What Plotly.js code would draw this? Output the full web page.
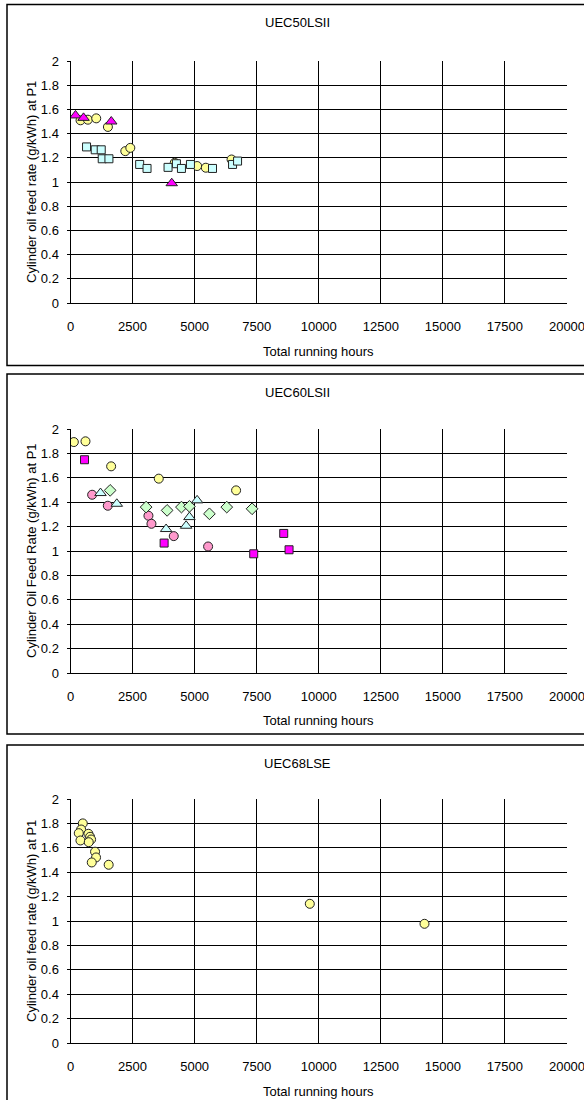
<!DOCTYPE html>
<html>
<head>
<meta charset="utf-8">
<script src="https://cdn.plot.ly/plotly-3.0.1.min.js"></script>
<style>html,body{margin:0;padding:0;background:#fff}#chart{width:584px;height:1100px}</style>
</head>
<body>
<div id="chart"></div>
<script>
// ---------- Panel 1: UEC50LSII ----------
const p1TriHours = [202, 525, 1642, 4078];
const p1TriRate  = [1.55, 1.53, 1.50, 0.99];
const p1CircHours = [404, 700, 1036, 1507, 2207, 2409, 4200, 5101, 5451, 6488];
const p1CircRate  = [1.51, 1.515, 1.526, 1.455, 1.255, 1.282, 1.159, 1.132, 1.118, 1.186];
const p1SqHours = [646, 996, 1238, 1278, 1548, 2786, 3083, 3930, 4267, 4469, 4832, 5720, 6528, 6730];
const p1SqRate  = [1.29, 1.266, 1.266, 1.192, 1.192, 1.145, 1.112, 1.121, 1.151, 1.112, 1.145, 1.112, 1.145, 1.173];

// ---------- Panel 2: UEC60LSII ----------
const p2YellowHours = [134, 604, 1637, 3556, 6670];
const p2YellowRate  = [1.893, 1.899, 1.694, 1.593, 1.497];
const p2MagSqHours = [564, 3771, 7381, 8589, 8804];
const p2MagSqRate  = [1.748, 1.065, 0.977, 1.144, 1.010];
const p2PinkHours = [872, 1503, 3140, 3261, 4160, 5543];
const p2PinkRate  = [1.461, 1.371, 1.289, 1.223, 1.122, 1.037];
const p2TriHours = [1208, 1865, 3851, 4657, 4791, 5100];
const p2TriRate  = [1.475, 1.387, 1.180, 1.207, 1.278, 1.415];
const p2DiaHours = [1597, 3046, 3892, 4469, 4791, 5596, 6294, 7314];
const p2DiaRate  = [1.497, 1.360, 1.333, 1.360, 1.366, 1.305, 1.360, 1.346];

// ---------- Panel 3: UEC68LSE ----------
const p3Hours = [495, 428, 334, 722, 401, 789, 829, 735, 989, 1029, 856, 1538, 9640, 14260];
const p3Rate  = [1.80, 1.75, 1.72, 1.715, 1.66, 1.69, 1.668, 1.646, 1.568, 1.521, 1.480, 1.461, 1.141, 0.977];

// ---------- Text ----------
const panelTitles = ["UEC50LSII", "UEC60LSII", "UEC68LSE"];
const yTitles = ["Cylinder oil feed rate (g/kWh) at P1", "Cylinder Oil Feed Rate (g/kWh) at P1", "Cylinder oil feed rate (g/kWh) at P1"];
const xTitle = "Total running hours";
const xTickVals = [0, 2500, 5000, 7500, 10000, 12500, 15000, 17500, 20000];
const xTickText = ["0", "2500", "5000", "7500", "10000", "12500", "15000", "17500", "20000"];
const yTickVals = [0, 0.2, 0.4, 0.6, 0.8, 1, 1.2, 1.4, 1.6, 1.8, 2];
const yTickText = ["0", "0.2", "0.4", "0.6", "0.8", "1", "1.2", "1.4", "1.6", "1.8", "2"];

const FONT = "'Liberation Sans', Arial, sans-serif";
const FS = 13;
const H = 1100, W = 584;
const py = v => 1 - v / H;
const px = v => v / W;

function mk(x, y, axis, symbol, color, size) {
  return {
    x: x, y: y, type: 'scatter', mode: 'markers',
    xaxis: 'x' + axis, yaxis: 'y' + axis,
    marker: {symbol: symbol, color: color, size: size, line: {color: '#222', width: 1}},
    showlegend: false, hoverinfo: 'x+y'
  };
}
const YEL = '#FFFF99', CYAN = '#CCFFFF', MAG = '#FF00FF', PINK = '#FF99CC', GRN = '#CCFFCC';

const data = [
  mk(p1CircHours, p1CircRate, '', 'circle', YEL, 9),
  mk(p1SqHours, p1SqRate, '', 'square', CYAN, 8),
  mk(p1TriHours, p1TriRate, '', 'triangle-up', MAG, 10),
  mk(p2YellowHours, p2YellowRate, '2', 'circle', YEL, 9),
  mk(p2PinkHours, p2PinkRate, '2', 'circle', PINK, 9),
  mk(p2DiaHours, p2DiaRate, '2', 'diamond', GRN, 9),
  mk(p2TriHours, p2TriRate, '2', 'triangle-up', CYAN, 10),
  mk(p2MagSqHours, p2MagSqRate, '2', 'square', MAG, 8),
  mk(p3Hours, p3Rate, '3', 'circle', YEL, 9)
];

// plot-area pixel positions [top, bottom]
const plots = [[61, 303], [429, 673], [799, 1043]];
const boxes = [[4.5, 365.5], [374, 734], [745, 1105]];
const xDom = [px(70.5), px(567)];

function xa(anchor) {
  return {
    domain: xDom, range: [0, 20000], anchor: anchor,
    tickvals: xTickVals, ticktext: xTickText, ticks: '', showgrid: true, gridcolor: '#000', gridwidth: 1,
    showline: true, linecolor: '#000', linewidth: 1, zeroline: false, ticklabeloverflow: 'allow',
    tickfont: {family: FONT, size: FS, color: '#000'}, ticklabelstandoff: 11, fixedrange: true
  };
}
function ya(anchor, i) {
  return {
    domain: [py(plots[i][1]), py(plots[i][0])], range: [0, 2], anchor: anchor,
    tickvals: yTickVals, ticktext: yTickText, ticks: 'outside', ticklen: 3, tickcolor: '#000',
    showgrid: true, gridcolor: '#000', gridwidth: 1,
    showline: true, linecolor: '#000', linewidth: 1, zeroline: false,
    tickfont: {family: FONT, size: FS, color: '#000'}, ticklabelstandoff: 5, fixedrange: true
  };
}

const annotations = [];
const shapes = [];
for (let i = 0; i < 3; i++) {
  annotations.push({text: panelTitles[i], xref: 'paper', yref: 'paper', x: px(297), y: py(boxes[i][0] + 18),
    showarrow: false, xanchor: 'center', yanchor: 'middle', font: {family: FONT, size: FS, color: '#000'}});
  annotations.push({text: xTitle, xref: 'paper', yref: 'paper', x: px(318.8), y: py(plots[i][1] + 48),
    showarrow: false, xanchor: 'center', yanchor: 'middle', font: {family: FONT, size: FS, color: '#000'}});
  annotations.push({text: yTitles[i], xref: 'paper', yref: 'paper', x: px(31), y: py((plots[i][0] + plots[i][1]) / 2),
    textangle: -90, showarrow: false, xanchor: 'center', yanchor: 'middle', font: {family: FONT, size: FS, color: '#000'}});
  shapes.push({type: 'rect', xref: 'paper', yref: 'paper', x0: px(7), x1: px(600), y0: py(boxes[i][1]), y1: py(boxes[i][0]),
    line: {color: '#000', width: 1.5}, fillcolor: 'rgba(0,0,0,0)', layer: 'below'});
}

const layout = {
  width: W, height: H, margin: {l: 0, r: 0, t: 0, b: 0},
  paper_bgcolor: '#fff', plot_bgcolor: '#fff',
  xaxis: xa('y'), yaxis: ya('x', 0),
  xaxis2: xa('y2'), yaxis2: ya('x2', 1),
  xaxis3: xa('y3'), yaxis3: ya('x3', 2),
  annotations: annotations, shapes: shapes, showlegend: false
};

Plotly.newPlot('chart', data, layout, {staticPlot: true, displayModeBar: false});
</script>
</body>
</html>
